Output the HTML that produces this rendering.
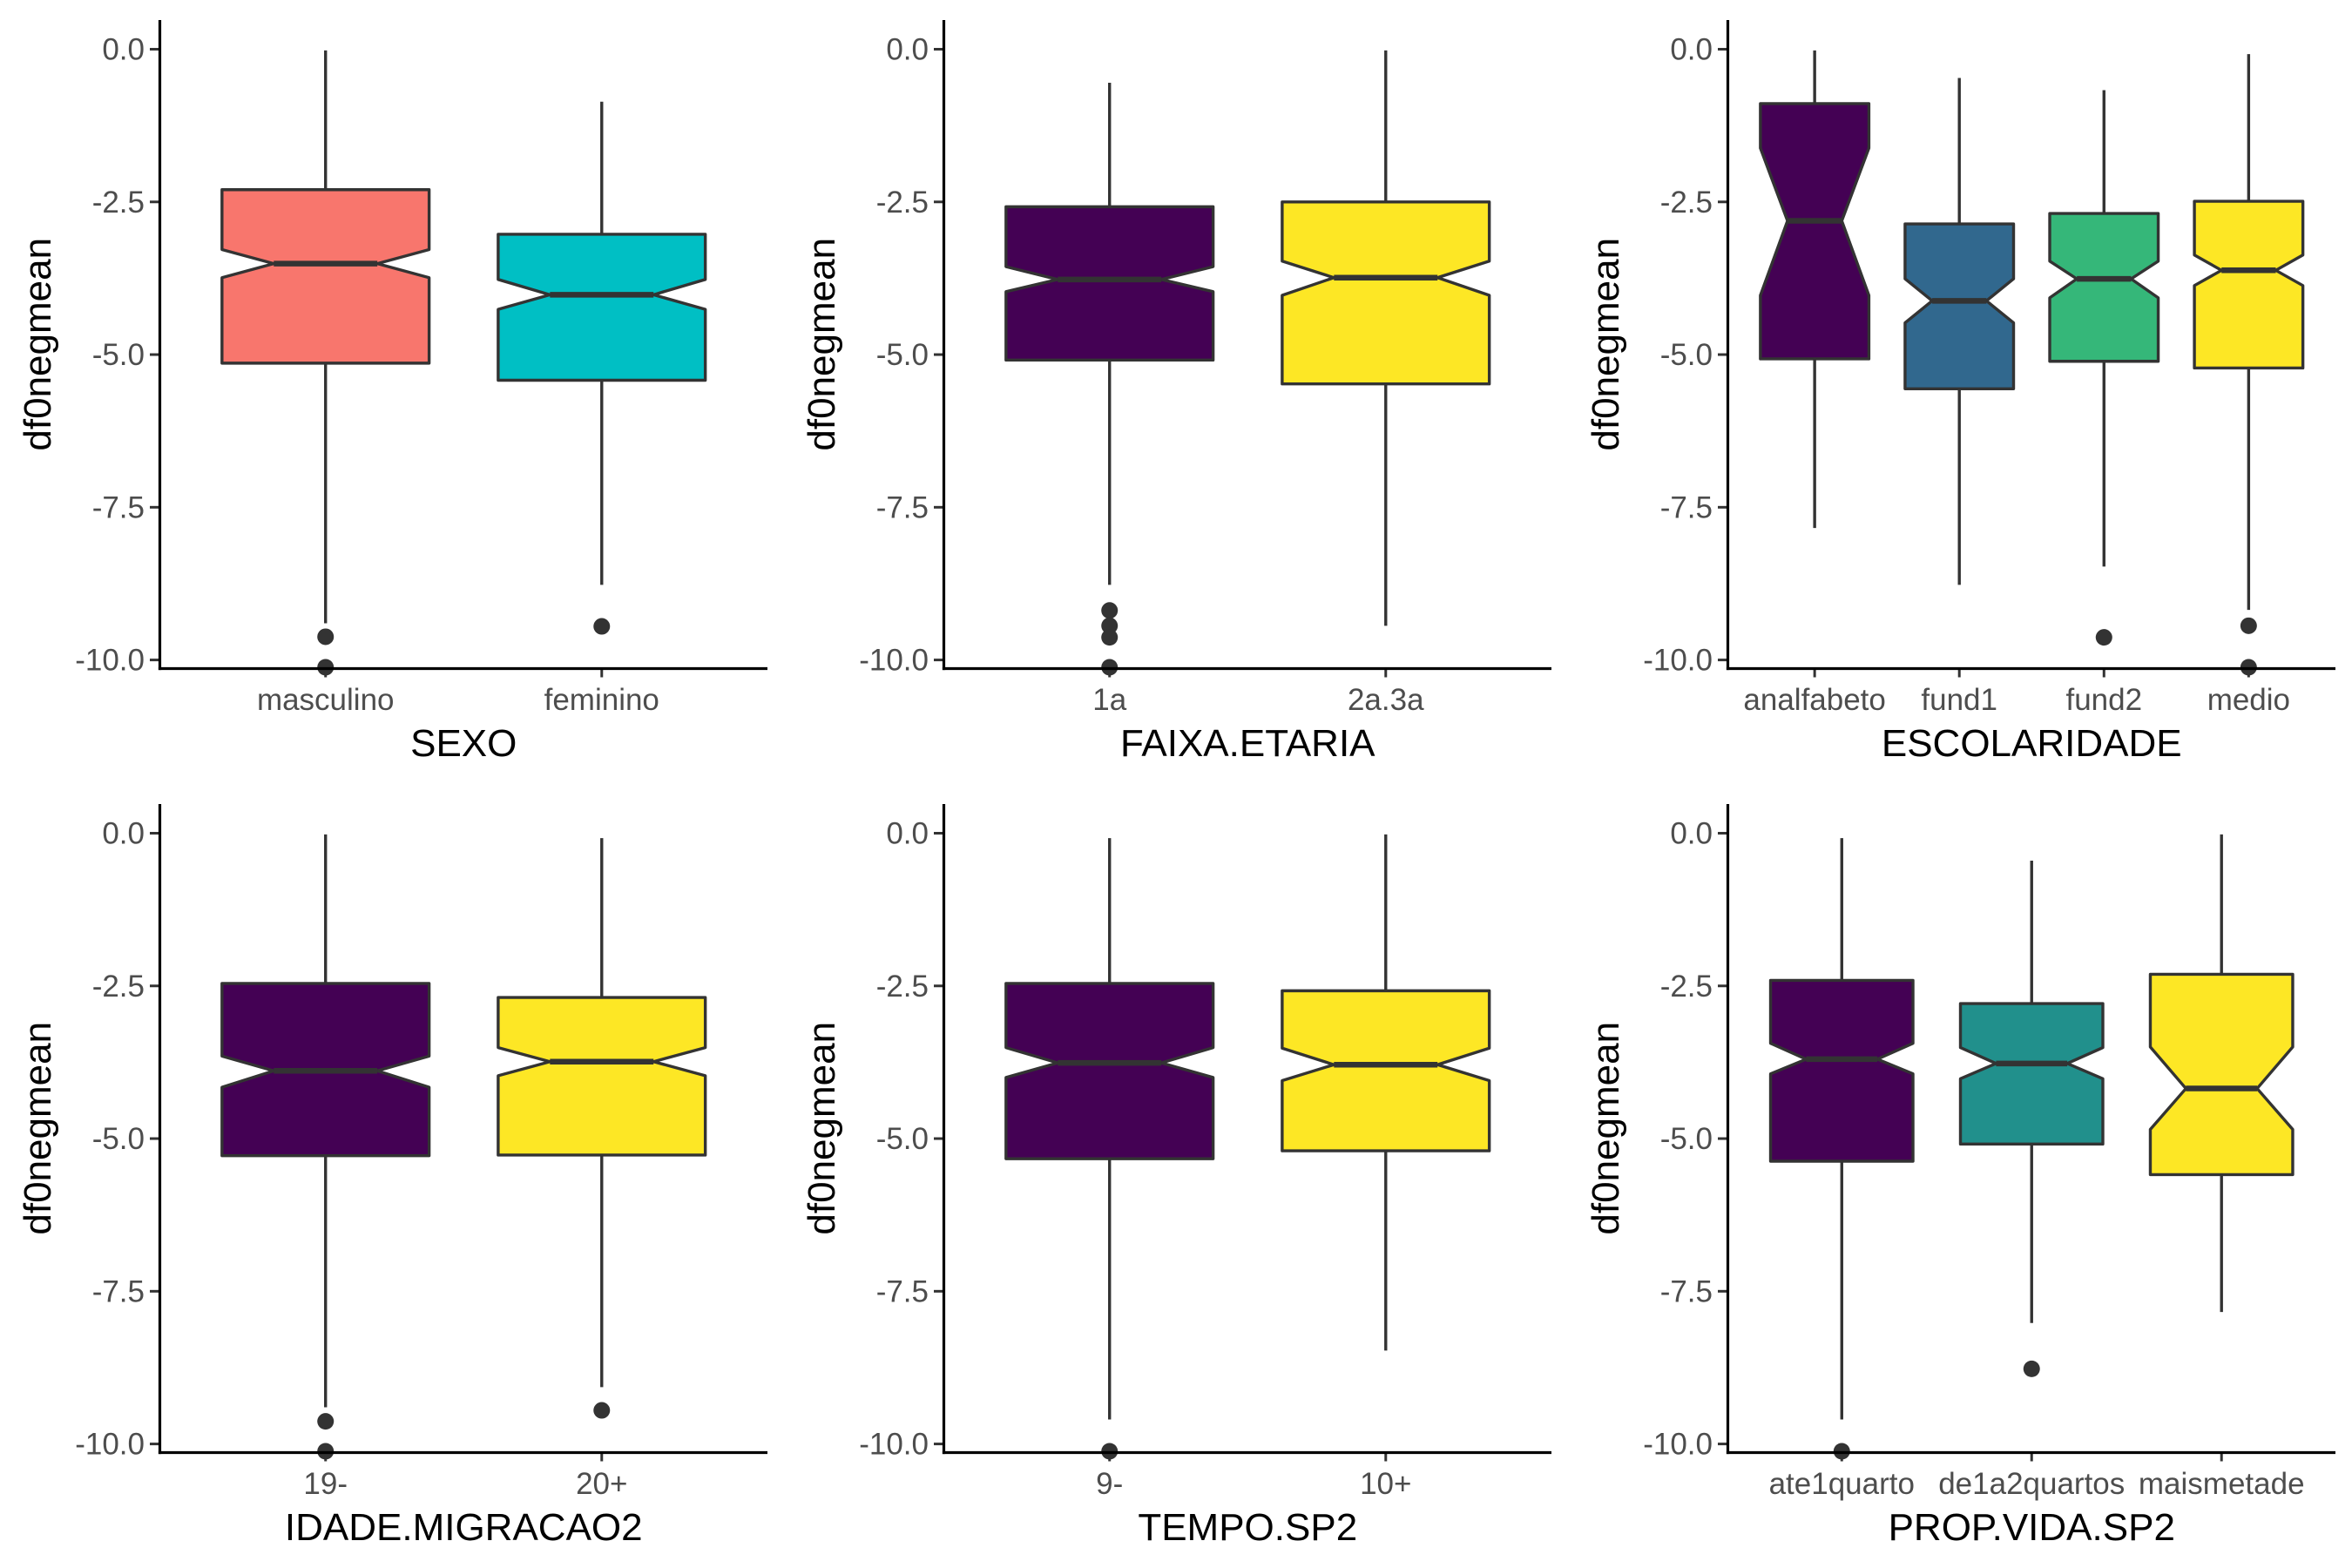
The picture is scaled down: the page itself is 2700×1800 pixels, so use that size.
<!DOCTYPE html>
<html><head><meta charset="utf-8"><style>
html,body{margin:0;padding:0;background:#fff;}
svg{display:block;font-family:"Liberation Sans",Arial,sans-serif;}
</style></head><body>
<svg id="chart" width="2700" height="1800" viewBox="0 0 2700 1800" xmlns="http://www.w3.org/2000/svg"></svg>
<script>
// Panel variables (x-axis titles)
const panelTitles = ["SEXO","FAIXA.ETARIA","ESCOLARIDADE","IDADE.MIGRACAO2","TEMPO.SP2","PROP.VIDA.SP2"];
// Categories per panel
const cats1 = ["masculino","feminino"];
const cats2 = ["1a","2a.3a"];
const cats3 = ["analfabeto","fund1","fund2","medio"];
const cats4 = ["19-","20+"];
const cats5 = ["9-","10+"];
const cats6 = ["ate1quarto","de1a2quartos","maismetade"];
// Whisker tops
const wTop1=[-0.02,-0.86], wTop2=[-0.55,-0.02], wTop3=[-0.02,-0.47,-0.67,-0.08], wTop4=[-0.02,-0.08], wTop5=[-0.08,-0.02], wTop6=[-0.08,-0.45,-0.02];
// Upper quartiles
const q3_1=[-2.30,-3.03], q3_2=[-2.58,-2.50], q3_3=[-0.89,-2.86,-2.69,-2.49], q3_4=[-2.46,-2.69], q3_5=[-2.46,-2.58], q3_6=[-2.41,-2.79,-2.31];
// Notch upper
const nU1=[-3.28,-3.77], nU2=[-3.56,-3.47], nU3=[-1.62,-3.76,-3.47,-3.37], nU4=[-3.65,-3.51], nU5=[-3.51,-3.52], nU6=[-3.44,-3.51,-3.50];
// Medians
const med1=[-3.51,-4.02], med2=[-3.77,-3.74], med3=[-2.81,-4.12,-3.76,-3.62], med4=[-3.89,-3.74], med5=[-3.76,-3.79], med6=[-3.70,-3.77,-4.18];
// Notch lower
const nL1=[-3.74,-4.26], nL2=[-3.97,-4.03], nL3=[-4.03,-4.48,-4.07,-3.87], nL4=[-4.16,-3.97], nL5=[-4.00,-4.05], nL6=[-3.94,-4.02,-4.85];
// Lower quartiles
const q1_1=[-5.14,-5.42], q1_2=[-5.09,-5.48], q1_3=[-5.07,-5.56,-5.11,-5.22], q1_4=[-5.28,-5.27], q1_5=[-5.33,-5.20], q1_6=[-5.37,-5.09,-5.59];
// Whisker bottoms
const wBot1=[-9.40,-8.77], wBot2=[-8.77,-9.44], wBot3=[-7.84,-8.77,-8.47,-9.18], wBot4=[-9.40,-9.07], wBot5=[-9.60,-8.47], wBot6=[-9.60,-8.02,-7.84];
// Outliers
const out1=[[-9.62,-10.12],[-9.45]], out2=[[-9.19,-9.44,-9.63,-10.12],[]], out3=[[],[],[-9.63],[-9.44,-10.12]], out4=[[-9.63,-10.12],[-9.45]], out5=[[-10.12],[]], out6=[[-10.12],[-8.77],[]];
// Fill colours
const fill1=["#F8766D","#00BFC4"], fill2=["#440154","#FDE725"], fill3=["#440154","#31688E","#35B779","#FDE725"], fill4=["#440154","#FDE725"], fill5=["#440154","#FDE725"], fill6=["#440154","#21908C","#FDE725"];
// Y ticks
const yTicks=[0,-2.5,-5,-7.5,-10];
const yTickLabels=["0.0","-2.5","-5.0","-7.5","-10.0"];

const panels=[
 [cats1,wTop1,q3_1,nU1,med1,nL1,q1_1,wBot1,out1,fill1],
 [cats2,wTop2,q3_2,nU2,med2,nL2,q1_2,wBot2,out2,fill2],
 [cats3,wTop3,q3_3,nU3,med3,nL3,q1_3,wBot3,out3,fill3],
 [cats4,wTop4,q3_4,nU4,med4,nL4,q1_4,wBot4,out4,fill4],
 [cats5,wTop5,q3_5,nU5,med5,nL5,q1_5,wBot5,out5,fill5],
 [cats6,wTop6,q3_6,nU6,med6,nL6,q1_6,wBot6,out6,fill6]
];
const NS="http://www.w3.org/2000/svg";
const svg=document.getElementById('chart');
function mk(tag,attrs,parent){const e=document.createElementNS(NS,tag);for(const k in attrs)e.setAttribute(k,attrs[k]);parent.appendChild(e);return e;}
const X0=183.5,X1=881,Y0=56.5,Y10=757.6,AX=767.5,ATOP=23;
const LW=3.4;
function yS(v){return Y0+(-v)*(Y10-Y0)/10;}
panels.forEach((p,pi)=>{
 const [cats,wt,q3,nu,md,nl,q1,wb,outs,fills]=p;
 const ox=(pi%3)*900, oy=Math.floor(pi/3)*900;
 const g=mk('g',{transform:`translate(${ox},${oy})`},svg);
 
 
 const n=cats.length, unit=(X1-X0)/(n-1+1.2);
 const xS=i=>X0+(0.6+i)*unit;
 const bw=0.75*unit;
 yTicks.forEach((t,ti)=>{
  const y=yS(t);
  const tk=mk('line',{x1:172,x2:X0,y1:y,y2:y,stroke:'#333',"stroke-width":3},g);
  
  
  const tx=mk('text',{x:166,y:y+12,"text-anchor":"end","font-size":35,fill:'#4D4D4D'},g);
  tx.textContent=yTickLabels[ti];
  
  
 });
 cats.forEach((c,i)=>{
  const cx=xS(i), l=cx-bw/2, r=cx+bw/2, nl2=cx-bw/4, nr=cx+bw/4;
  const w1=mk('line',{x1:cx,x2:cx,y1:yS(wt[i]),y2:yS(q3[i]),stroke:'#333',"stroke-width":LW},g);
  
  
  const w2=mk('line',{x1:cx,x2:cx,y1:yS(q1[i]),y2:yS(wb[i]),stroke:'#333',"stroke-width":LW},g);
  
  
  const pts=[[l,yS(q3[i])],[r,yS(q3[i])],[r,yS(nu[i])],[nr,yS(md[i])],[r,yS(nl[i])],[r,yS(q1[i])],[l,yS(q1[i])],[l,yS(nl[i])],[nl2,yS(md[i])],[l,yS(nu[i])]];
  const bx=mk('polygon',{points:pts.map(p=>p.join(',')).join(' '),fill:fills[i],stroke:'#333',"stroke-width":LW,"stroke-linejoin":"round"},g);
  
  
  const ml=mk('line',{x1:nl2,x2:nr,y1:yS(md[i]),y2:yS(md[i]),stroke:'#333',"stroke-width":6.5},g);
  
  
  outs[i].forEach(v=>{
   const o=mk('circle',{cx:cx,cy:yS(v),r:9.5,fill:'#333'},g);
   
   
  });
  const xt=mk('line',{x1:cx,x2:cx,y1:AX,y2:AX+10,stroke:'#333',"stroke-width":3},g);
  
  
  const xl=mk('text',{x:cx,y:815,"text-anchor":"middle","font-size":35,fill:'#4D4D4D'},g);
  xl.textContent=c;
  
  
 });
 const ya=mk('line',{x1:X0,x2:X0,y1:ATOP,y2:AX+1.6,stroke:'#000',"stroke-width":3.2},g);
 
 
 const xa=mk('line',{x1:X0-1.6,x2:X1,y1:AX,y2:AX,stroke:'#000',"stroke-width":3.2},g);
 
 
 const xtt=mk('text',{x:(X0+X1)/2,y:868,"text-anchor":"middle","font-size":44,fill:'#000'},g);
 xtt.textContent=panelTitles[pi];
 
 
 const ytt=mk('text',{x:0,y:0,"text-anchor":"middle","font-size":44,fill:'#000',transform:`translate(58,${(ATOP+AX)/2}) rotate(-90)`},g);
 ytt.textContent='df0negmean';
 
 
});
</script>
</body></html>
